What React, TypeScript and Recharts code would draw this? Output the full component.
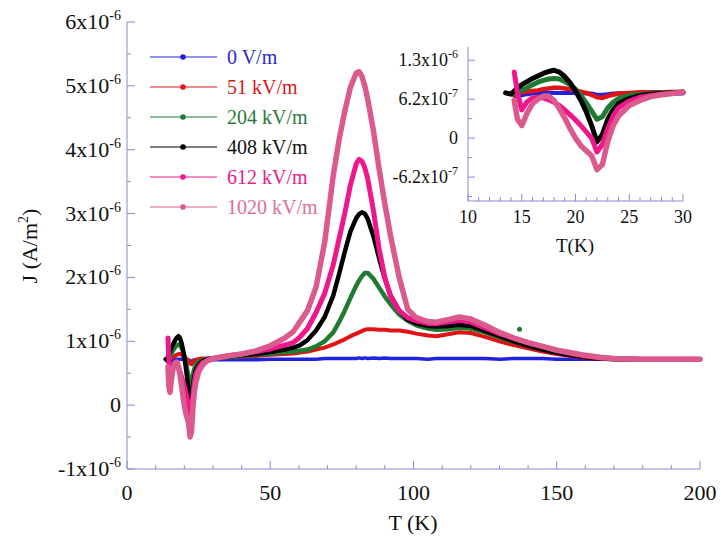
import React from 'react';
import { LineChart, Line, XAxis, YAxis } from 'recharts';

// Temperature grid (K)
const temps = [13.5, 14, 14.3, 14.6, 15, 15.5, 16, 16.5, 17, 17.5, 18, 18.5, 19, 19.5, 20, 20.5, 21, 21.5, 22, 22.5, 23, 23.5, 24, 25, 26, 27, 28, 30, 35, 40, 45, 50, 55, 58, 60, 63, 66, 69, 72, 74, 76, 78, 80, 81, 82, 83, 84, 86, 88, 90, 92, 95, 98, 101, 105, 108, 112, 116, 120, 125, 130, 135, 140, 145, 150, 155, 160, 165, 170, 180, 190, 200];

// Current density J in units of 1e-6 A/m^2
const j0Vm = [null, null, 0.68, 0.66, 0.68, 0.7, 0.71, 0.71, 0.72, 0.72, 0.72, 0.72, 0.72, 0.72, 0.72, 0.72, 0.71, 0.71, 0.69, 0.69, 0.7, 0.71, 0.71, 0.71, 0.71, 0.71, 0.71, 0.71, 0.71, 0.71, 0.71, 0.72, 0.72, 0.72, 0.72, 0.72, 0.72, 0.73, 0.73, 0.73, 0.73, 0.73, 0.73, 0.74, 0.73, 0.74, 0.73, 0.74, 0.73, 0.74, 0.73, 0.73, 0.73, 0.73, 0.72, 0.73, 0.73, 0.73, 0.73, 0.73, 0.72, 0.73, 0.73, 0.73, 0.72, 0.72, 0.72, 0.72, 0.72, 0.72, 0.72, 0.72];
const j51 = [null, null, 0.68, 0.7, 0.73, 0.74, 0.75, 0.76, 0.78, 0.79, 0.8, 0.8, 0.79, 0.78, 0.76, 0.74, 0.72, 0.69, 0.65, 0.64, 0.67, 0.69, 0.71, 0.72, 0.73, 0.73, 0.73, 0.74, 0.75, 0.76, 0.77, 0.79, 0.8, 0.81, 0.82, 0.84, 0.87, 0.9, 0.95, 0.99, 1.03, 1.08, 1.12, 1.14, 1.16, 1.18, 1.19, 1.19, 1.18, 1.18, 1.17, 1.17, 1.15, 1.12, 1.09, 1.08, 1.11, 1.14, 1.13, 1.07, 1.0, 0.94, 0.89, 0.84, 0.8, 0.77, 0.74, 0.73, 0.72, 0.72, 0.72, 0.72];
const j204 = [null, null, 0.7, 0.72, 0.76, 0.8, 0.85, 0.89, 0.92, 0.94, 0.95, 0.94, 0.9, 0.85, 0.78, 0.68, 0.56, 0.43, 0.3, 0.34, 0.48, 0.57, 0.63, 0.68, 0.7, 0.71, 0.72, 0.73, 0.75, 0.77, 0.79, 0.81, 0.83, 0.84, 0.85, 0.87, 0.92, 1.0, 1.14, 1.3, 1.48, 1.68, 1.87, 1.95, 2.02, 2.07, 2.07, 1.98, 1.84, 1.7, 1.58, 1.42, 1.32, 1.25, 1.2, 1.18, 1.19, 1.21, 1.2, 1.14, 1.06, 0.99, 0.93, 0.88, 0.83, 0.79, 0.76, 0.74, 0.73, 0.72, 0.72, 0.72];
const j408 = [0.72, 0.7, 0.75, 0.8, 0.85, 0.9, 0.95, 0.99, 1.03, 1.06, 1.08, 1.05, 0.98, 0.88, 0.75, 0.6, 0.42, 0.2, -0.06, 0.06, 0.3, 0.45, 0.55, 0.63, 0.68, 0.7, 0.71, 0.73, 0.76, 0.78, 0.8, 0.83, 0.87, 0.9, 0.93, 1.02, 1.17, 1.38, 1.72, 2.05, 2.4, 2.72, 2.93, 2.99, 3.02, 3.0, 2.92, 2.65, 2.3, 1.98, 1.72, 1.48, 1.34, 1.28, 1.24, 1.23, 1.24, 1.26, 1.24, 1.16, 1.08, 1.0, 0.93, 0.87, 0.82, 0.78, 0.75, 0.73, 0.72, 0.72, 0.72, 0.72];
const j612 = [null, null, 1.05, 0.72, 0.45, 0.58, 0.64, 0.65, 0.64, 0.61, 0.57, 0.52, 0.45, 0.37, 0.29, 0.2, 0.1, 0.0, -0.22, -0.1, 0.15, 0.35, 0.48, 0.59, 0.65, 0.68, 0.7, 0.73, 0.77, 0.8, 0.84, 0.88, 0.94, 0.98, 1.05, 1.2, 1.45, 1.75, 2.2, 2.6, 3.0, 3.45, 3.78, 3.85, 3.82, 3.72, 3.55, 3.05, 2.45, 2.0, 1.7, 1.48, 1.37, 1.32, 1.28, 1.28, 1.3, 1.33, 1.3, 1.21, 1.12, 1.05, 0.98, 0.92, 0.86, 0.81, 0.77, 0.74, 0.73, 0.72, 0.72, 0.72];
const j1020 = [null, null, 0.6, 0.3, 0.2, 0.4, 0.55, 0.62, 0.67, 0.67, 0.6, 0.47, 0.32, 0.15, 0.0, -0.12, -0.2, -0.28, -0.5, -0.42, -0.05, 0.2, 0.35, 0.52, 0.6, 0.66, 0.69, 0.73, 0.77, 0.8, 0.85, 0.93, 1.05, 1.15, 1.28, 1.48, 1.85, 2.55, 3.6, 4.15, 4.6, 4.98, 5.2, 5.22, 5.15, 5.0, 4.8, 4.3, 3.7, 3.15, 2.65, 2.0, 1.5, 1.37, 1.31, 1.3, 1.34, 1.38, 1.35, 1.25, 1.14, 1.05, 0.98, 0.92, 0.86, 0.82, 0.78, 0.75, 0.73, 0.72, 0.72, 0.72];

// Stray measured point on the 204 kV/m curve
const strayT = [137];
const strayJ = [1.19];

const seriesNames = ['0 V/m', '51 kV/m', '204 kV/m', '408 kV/m', '612 kV/m', '1020 kV/m'];
const seriesKeys = ['s0', 's51', 's204', 's408', 's612', 's1020'];
const seriesColors = ['#2222dd', '#e01414', '#1f7a32', '#000000', '#f0168c', '#da5a8e'];
const legendTextColors = ['#2a2ac8', '#d81818', '#2a7a3a', '#111111', '#e8208a', '#d8709c'];
const seriesWidths = [3.5, 4, 4.5, 4.5, 5, 5.5];
const insetWidths = [4, 4.5, 5, 5, 5, 5.5];
const seriesValues = [j0Vm, j51, j204, j408, j612, j1020];

// Axis ticks
const xTicks = [0, 10, 20, 30, 40, 50, 60, 70, 80, 90, 100, 110, 120, 130, 140, 150, 160, 170, 180, 190, 200];
const yTicks = [-1, -0.5, 0, 0.5, 1, 1.5, 2, 2.5, 3, 3.5, 4, 4.5, 5, 5.5, 6];
const insetXTicks = [10, 11, 12, 13, 14, 15, 16, 17, 18, 19, 20, 21, 22, 23, 24, 25, 26, 27, 28, 29, 30];
const insetYTicks = [-0.93, -0.62, -0.31, 0, 0.31, 0.62, 0.93, 1.24];
const insetYMajor = [-0.62, 0, 0.62, 1.24];
const insetYLabels = [['-6.2x10', '-7'], ['0', ''], ['6.2x10', '-7'], ['1.3x10', '-6']];

const data = temps.map((t, i) => {
  const row: any = { T: t };
  seriesKeys.forEach((k, s) => { row[k] = seriesValues[s][i]; });
  return row;
});
const insetData = data.filter((d) => d.T <= 30);
const strayData = strayT.map((t, i) => ({ T: t, stray: strayJ[i] }));

const FONT = "'Liberation Serif', 'Times New Roman', serif";
const AXIS = '#8a8ad8';

const near = (a: number, b: number) => Math.abs(a - b) < 1e-6;

const MainXTick = (props: any) => {
  const { x, y, payload } = props;
  const v = payload.value;
  const major = v % 50 === 0;
  return (
    <g>
      <line x1={x} y1={y} x2={x} y2={y - (major ? 8 : 4)} stroke={AXIS} strokeWidth={1} />
      {major && (
        <text x={x} y={y + 31} textAnchor="middle" fontFamily={FONT} fontSize={22} fill="#111">{v}</text>
      )}
    </g>
  );
};
const MainTopTick = (props: any) => {
  const { x, y, payload } = props;
  const major = payload.value % 50 === 0;
  return <line x1={x} y1={y} x2={x} y2={y + (major ? 8 : 4)} stroke={AXIS} strokeWidth={1} />;
};
const MainYTick = (props: any) => {
  const { x, y, payload } = props;
  const v = payload.value;
  const major = near(v, Math.round(v));
  return (
    <g>
      <line x1={x} y1={y} x2={x + (major ? 8 : 4)} y2={y} stroke={AXIS} strokeWidth={1} />
      {major && (
        <text x={x - 6} y={y + 7} textAnchor="end" fontFamily={FONT} fontSize={22} fill="#111">
          {v === 0 ? '0' : `${v}x10`}
          {v !== 0 && <tspan dy={-9} fontSize={14}>-6</tspan>}
        </text>
      )}
    </g>
  );
};
const MainRightTick = (props: any) => {
  const { x, y, payload } = props;
  const v = payload.value;
  const major = near(v, Math.round(v));
  return <line x1={x} y1={y} x2={x - (major ? 8 : 4)} y2={y} stroke={AXIS} strokeWidth={1} />;
};

const InsetXTick = (props: any) => {
  const { x, y, payload } = props;
  const v = payload.value;
  const major = v % 5 === 0;
  return (
    <g>
      <line x1={x} y1={y} x2={x} y2={y - (major ? 7 : 4)} stroke={AXIS} strokeWidth={1} />
      {major && (
        <text x={x} y={y + 22} textAnchor="middle" fontFamily={FONT} fontSize={18} fill="#111">{v}</text>
      )}
    </g>
  );
};
const InsetTopTick = (props: any) => {
  const { x, y, payload } = props;
  const major = payload.value % 5 === 0;
  return <line x1={x} y1={y} x2={x} y2={y + (major ? 7 : 4)} stroke={AXIS} strokeWidth={1} />;
};
const InsetYTick = (props: any) => {
  const { x, y, payload } = props;
  const v = payload.value;
  const idx = insetYMajor.findIndex((m) => near(m, v));
  const major = idx >= 0;
  return (
    <g>
      <line x1={x} y1={y} x2={x + (major ? 7 : 4)} y2={y} stroke={AXIS} strokeWidth={1} />
      {major && (
        <text x={x - 10} y={y + 6} textAnchor="end" fontFamily={FONT} fontSize={18} fill="#111">
          {insetYLabels[idx][0]}
          {insetYLabels[idx][1] && <tspan dy={-8} fontSize={12}>{insetYLabels[idx][1]}</tspan>}
        </text>
      )}
    </g>
  );
};
const InsetRightTick = (props: any) => {
  const { x, y, payload } = props;
  const major = insetYMajor.some((m) => near(m, payload.value));
  return <line x1={x} y1={y} x2={x - (major ? 7 : 4)} y2={y} stroke={AXIS} strokeWidth={1} />;
};

const Legend = () => (
  <div style={{ position: 'absolute', left: 150, top: 42, fontFamily: FONT, fontSize: 20 }}>
    {seriesNames.map((name, i) => (
      <div key={name} style={{ height: 30, display: 'flex', alignItems: 'center' }}>
        <svg width={68} height={30} style={{ display: 'block' }}>
          <line x1={0} y1={15} x2={67} y2={15} stroke={seriesColors[i]} strokeWidth={1} />
          <circle cx={33} cy={15} r={2.8} fill={seriesColors[i]} />
        </svg>
        <span style={{ color: legendTextColors[i], marginLeft: 9, lineHeight: '30px' }}>{name}</span>
      </div>
    ))}
  </div>
);

export default function App() {
  return (
    <div style={{ position: 'absolute', left: 0, top: 0, width: 721, height: 545, background: '#fff' }}>
      <LineChart width={721} height={545} data={data} margin={{ top: 22, right: 21, bottom: 0, left: 0 }}>
        <XAxis dataKey="T" type="number" domain={[0, 200]} ticks={xTicks} interval={0} height={76}
          tickSize={0} tickMargin={0} tickLine={false} axisLine={{ stroke: AXIS }} tick={<MainXTick />} />
        <XAxis xAxisId="top" orientation="top" dataKey="T" type="number" domain={[0, 200]} ticks={xTicks} interval={0} height={0}
          tickSize={0} tickMargin={0} tickLine={false} axisLine={{ stroke: AXIS }} tick={<MainTopTick />} />
        <YAxis type="number" domain={[-1, 6]} ticks={yTicks} interval={0} width={127}
          tickSize={0} tickMargin={0} tickLine={false} axisLine={{ stroke: AXIS }} tick={<MainYTick />} />
        <YAxis yAxisId="right" orientation="right" type="number" domain={[-1, 6]} ticks={yTicks} interval={0} width={0}
          tickSize={0} tickMargin={0} tickLine={false} axisLine={{ stroke: AXIS }} tick={<MainRightTick />} />
        {seriesKeys.map((k, i) => (
          <Line key={k} dataKey={k} type="linear" stroke={seriesColors[i]} strokeWidth={seriesWidths[i]}
            dot={false} isAnimationActive={false} strokeLinejoin="round" strokeLinecap="round" />
        ))}
        <Line data={strayData} dataKey="stray" stroke="none" isAnimationActive={false}
          dot={{ r: 2.5, fill: seriesColors[2], stroke: 'none' }} />
      </LineChart>

      <div style={{ position: 'absolute', left: 380, top: 30 }}>
        <LineChart width={330} height={230} data={insetData} margin={{ top: 17, right: 27, bottom: 0, left: 0 }}>
          <XAxis dataKey="T" type="number" domain={[10, 30]} ticks={insetXTicks} interval={0} height={59}
            tickSize={0} tickMargin={0} tickLine={false} axisLine={{ stroke: AXIS }} tick={<InsetXTick />} />
          <XAxis xAxisId="top" orientation="top" dataKey="T" type="number" domain={[10, 30]} ticks={insetXTicks} interval={0} height={0}
            tickSize={0} tickMargin={0} tickLine={false} axisLine={{ stroke: AXIS }} tick={<InsetTopTick />} />
          <YAxis type="number" domain={[-1.0, 1.45]} ticks={insetYTicks} interval={0} width={88}
            tickSize={0} tickMargin={0} tickLine={false} axisLine={{ stroke: AXIS }} tick={<InsetYTick />} />
          <YAxis yAxisId="right" orientation="right" type="number" domain={[-1.0, 1.45]} ticks={insetYTicks} interval={0} width={0}
            tickSize={0} tickMargin={0} tickLine={false} axisLine={{ stroke: AXIS }} tick={<InsetRightTick />} />
          {seriesKeys.map((k, i) => (
            <Line key={k} dataKey={k} type="linear" stroke={seriesColors[i]} strokeWidth={insetWidths[i]}
              dot={false} isAnimationActive={false} strokeLinejoin="round" strokeLinecap="round" />
          ))}
        </LineChart>
      </div>

      <svg width={721} height={545} style={{ position: 'absolute', left: 0, top: 0, pointerEvents: 'none' }}>
        <text x={413} y={530} textAnchor="middle" fontFamily={FONT} fontSize={22} fill="#111">T (K)</text>
        <text x={575} y={252} textAnchor="middle" fontFamily={FONT} fontSize={19} fill="#111">T(K)</text>
        <text transform="translate(37,246) rotate(-90)" textAnchor="middle" fontFamily={FONT} fontSize={22} fill="#111">
          J (A/m<tspan dy={-9} fontSize={14}>2</tspan><tspan dy={9}>)</tspan>
        </text>
      </svg>

      <Legend />
    </div>
  );
}
